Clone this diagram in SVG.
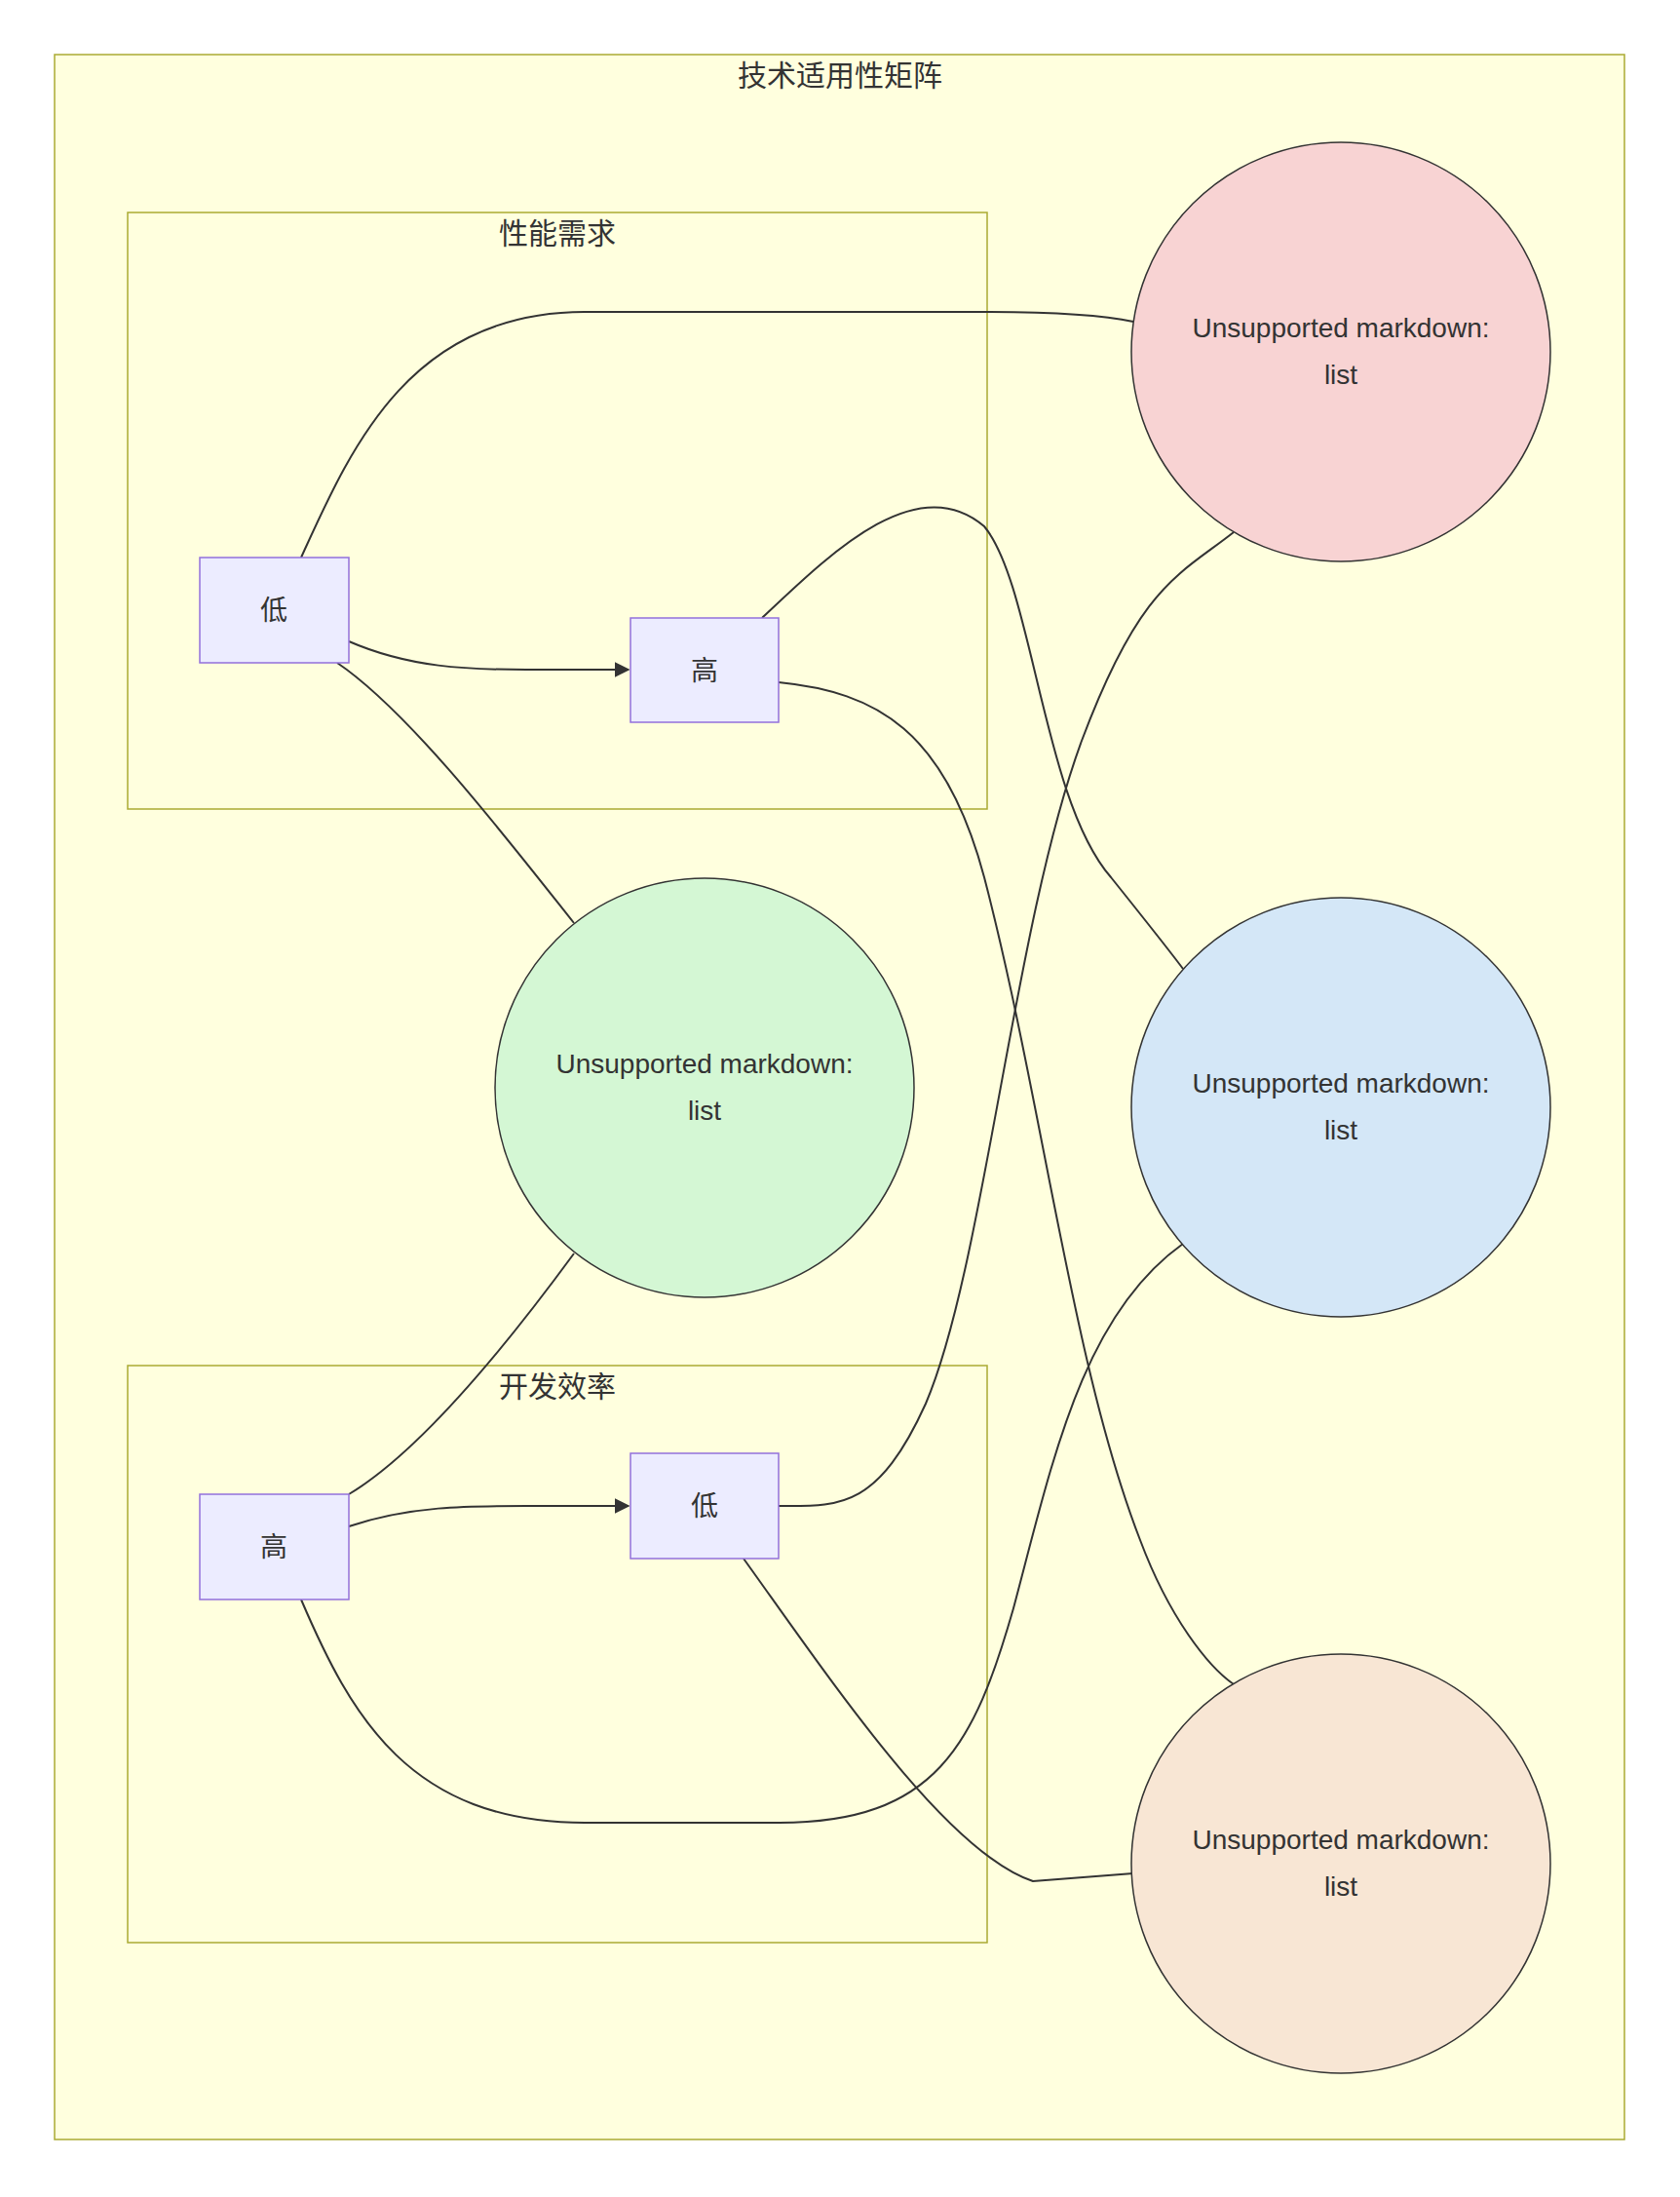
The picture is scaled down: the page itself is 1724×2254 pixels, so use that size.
<svg xmlns="http://www.w3.org/2000/svg" width="1724" height="2254" viewBox="0 0 1724 2254">
<style>
text{font-family:"Liberation Sans","Noto Sans CJK SC",sans-serif;fill:#333;text-anchor:middle}
.cl{fill:#FFFFDE;stroke:#AAAA33;stroke-width:1.5}
.nd{fill:#ECECFF;stroke:#9370DB;stroke-width:1.5}
.ci{stroke:#333;stroke-width:1.5}
.e{fill:none;stroke:#333;stroke-width:2}
.t{font-size:30px}
.n{font-size:28px}
</style>
<defs><marker id="a" viewBox="0 0 10 10" refX="9" refY="5" markerWidth="8" markerHeight="8" orient="auto"><path d="M0,0L10,5L0,10z" fill="#333"/></marker></defs>
<rect width="1724" height="2254" fill="#fff"/>
<g id="matrix"><rect class="cl" x="56" y="56" width="1611" height="2139"/><text class="t" x="862" y="88">技术适用性矩阵</text></g>
<g id="perf"><rect class="cl" x="131" y="218" width="882" height="612"/><text class="t" x="572" y="250">性能需求</text></g>
<g id="dev"><rect class="cl" x="131" y="1401" width="882" height="592"/><text class="t" x="572" y="1433">开发效率</text></g>
<g id="edges">
<path class="e" d="M358,658 C420,685 480,687 540,687 L645,687" marker-end="url(#a)"/>
<path class="e" d="M309,572 C360,460 420,320 600,320 L1010,320 C1100,320 1140,325 1163,330"/>
<path class="e" d="M346,680 C420,730 520,860 589,947"/>
<path class="e" d="M782,634 C850,570 940,480 1010,540 C1060,600 1070,820 1140,900 C1180,950 1200,975 1214,994"/>
<path class="e" d="M799,700 C900,710 970,750 1010,900 C1070,1130 1100,1400 1170,1580 C1200,1660 1240,1710 1266,1728"/>
<path class="e" d="M358,1533 C430,1490 520,1380 589,1286"/>
<path class="e" d="M358,1566 C420,1545 480,1545 540,1545 L645,1545" marker-end="url(#a)"/>
<path class="e" d="M309,1641 C360,1760 420,1870 600,1870 L800,1870 C960,1870 1000,1790 1040,1650 C1080,1500 1110,1350 1214,1276"/>
<path class="e" d="M799,1545 C860,1545 900,1550 950,1440 C1010,1300 1040,950 1110,760 C1170,600 1210,590 1266,546"/>
<path class="e" d="M763,1599 C850,1720 970,1900 1060,1930 L1163,1922"/>
</g>
<g id="perf_low"><rect class="nd" x="205" y="572" width="153" height="108"/><text class="n" x="281" y="636">低</text></g>
<g id="perf_high"><rect class="nd" x="647" y="634" width="152" height="107"/><text class="n" x="723" y="698">高</text></g>
<g id="dev_high"><rect class="nd" x="205" y="1533" width="153" height="108"/><text class="n" x="281" y="1597">高</text></g>
<g id="dev_low"><rect class="nd" x="647" y="1491" width="152" height="108"/><text class="n" x="723" y="1555">低</text></g>
<g id="c_red"><circle class="ci" cx="1376" cy="361" r="215" fill="#F8D3D3"/><text class="n" x="1376" y="346">Unsupported markdown:</text><text class="n" x="1376" y="394">list</text></g>
<g id="c_green"><circle class="ci" cx="723" cy="1116" r="215" fill="#D4F7D4"/><text class="n" x="723" y="1101">Unsupported markdown:</text><text class="n" x="723" y="1149">list</text></g>
<g id="c_blue"><circle class="ci" cx="1376" cy="1136" r="215" fill="#D4E7F7"/><text class="n" x="1376" y="1121">Unsupported markdown:</text><text class="n" x="1376" y="1169">list</text></g>
<g id="c_orange"><circle class="ci" cx="1376" cy="1912" r="215" fill="#F8E6D4"/><text class="n" x="1376" y="1897">Unsupported markdown:</text><text class="n" x="1376" y="1945">list</text></g>
</svg>
